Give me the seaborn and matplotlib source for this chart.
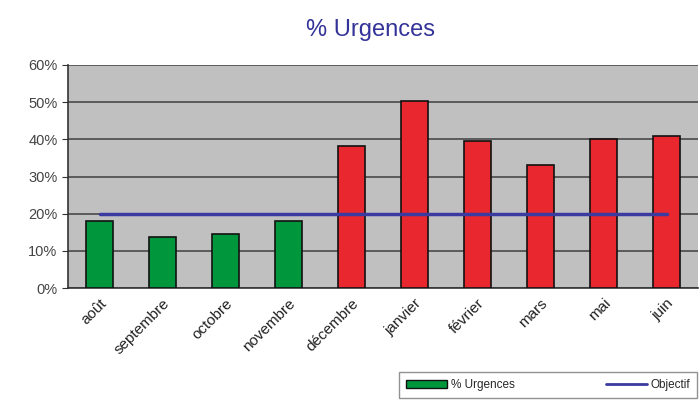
import numpy as np
import pandas as pd
import matplotlib
matplotlib.use("Agg")
import matplotlib.pyplot as plt
from matplotlib.patches import Patch
from matplotlib.lines import Line2D
import seaborn as sns

# Data
MONTHS = ['août', 'septembre', 'octobre', 'novembre', 'décembre',
          'janvier', 'février', 'mars', 'mai', 'juin']
URGENCES = [17.9, 13.7, 14.5, 17.9, 38.2, 50.2, 39.5, 33.0, 40.2, 41.0]
OBJECTIF = [20, 20, 20, 20, 20, 20, 20, 20, 20, 20]
BAR_COLORS = ['#00963c'] * 4 + ['#e8282e'] * 6

sns.set_style("white")
plt.rcParams['font.family'] = ['Liberation Sans', 'DejaVu Sans']

df = pd.DataFrame({'mois': MONTHS, 'urgences': URGENCES, 'objectif': OBJECTIF})

fig = plt.figure(figsize=(7, 4), dpi=100)
ax = fig.add_axes([68 / 700, 1 - 288 / 400, 630 / 700, 223 / 400])
ax.set_facecolor('#c0c0c0')

sns.barplot(data=df, x='mois', y='urgences', hue='mois', palette=BAR_COLORS,
            saturation=1, width=0.43, edgecolor='#111111', linewidth=1.2,
            legend=False, ax=ax, zorder=3)

# objective line
ax.plot(np.arange(len(MONTHS)), df['objectif'], color='#3a3aa0', lw=2.5, zorder=4)

ax.set_ylim(0, 60)
ax.set_xlim(-0.5, len(MONTHS) - 0.5)
ax.set_yticks(range(0, 61, 10))
ax.set_yticklabels([f'{v}%' for v in range(0, 61, 10)], color='#444444', fontsize=10.5)
ax.yaxis.grid(True, color='#4a4a4a', lw=1.2, zorder=0)
ax.set_axisbelow(True)

ax.set_xticks(range(len(MONTHS)))
ax.set_xticklabels(MONTHS, rotation=45, ha='right', rotation_mode='anchor',
                   fontsize=11, color='#222222')
ax.tick_params(axis='x', which='major', length=0, pad=6)
ax.set_xticks(np.arange(-0.5, len(MONTHS), 1), minor=True)
ax.tick_params(axis='x', which='minor', length=4, color='#333333', direction='out')
ax.tick_params(axis='y', length=4, color='#333333', direction='out', left=True)
ax.set_xlabel('')
ax.set_ylabel('')

for side in ['top', 'right']:
    ax.spines[side].set_visible(False)
ax.spines['left'].set_color('#333333')
ax.spines['bottom'].set_color('#333333')
ax.spines['left'].set_linewidth(1.2)
ax.spines['bottom'].set_linewidth(1.2)

fig.text(370 / 700, 1 - 30 / 400, '% Urgences', ha='center', va='center',
         fontsize=17, color='#333399')

handles = [Patch(facecolor='#00963c', edgecolor='#111111', label='% Urgences'),
           Line2D([0], [0], color='#3a3aa0', lw=2, label='Objectif')]
fig.legend(handles=handles, loc='lower left',
           bbox_to_anchor=(393 / 700, -0.01, 310 / 700, 34 / 400), mode='expand',
           ncol=2, fontsize=8.5, frameon=True, fancybox=False, edgecolor='#777777',
           handlelength=3.5, handletextpad=0.3, borderpad=0.6)

fig.savefig('out.png', dpi=100)
